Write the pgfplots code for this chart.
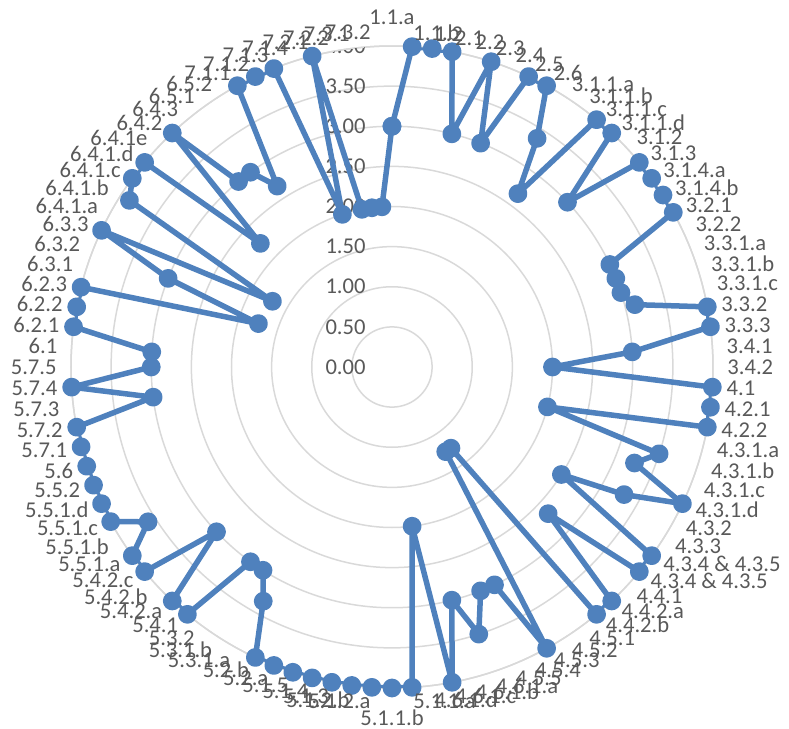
\documentclass[border=0pt]{standalone}
\usepackage{pgfplots}
\pgfplotsset{compat=1.18}
\usepackage{pgfplotstable}
\usepgfplotslibrary{polar}
\usetikzlibrary{calc}
\usepackage{fontspec}
\setmainfont{Carlito}
\definecolor{gridgray}{RGB}{217,217,217}
\definecolor{txtgray}{RGB}{89,89,89}
\definecolor{serblue}{RGB}{79,129,189}

\pgfplotstableread{
k v
0 3.0
1 4
2 4
3 4
4 3.0
5 4
6 3.0
7 4
8 4
9 3.375
10 2.67
11 4
12 4
13 3.0
14 4
15 4
16 4
17 4
18 3.0
19 3.0
20 3.0
21 3.125
22 4
23 4
24 3.0
25 2.0
26 4
27 4
28 4
29 2.0
30 3.5
31 3.25
32 4
33 3.3
34 2.5
35 4
36 4
37 2.67
38 4
39 4
40 1.25
41 1.25
42 4
43 3.0
44 3.0
45 3.5
46 3.0
47 4
48 2.0
49 4
50 4
51 4
52 4
53 4
54 4
55 4
56 4
57 4
58 3.33
59 3.0
60 3.0
61 4
62 4
63 3.0
64 4
65 4
66 3.6
67 4
68 4
69 4
70 4
71 4
72 4
73 3.0
74 4
75 3.0
76 3.0
77 4
78 4
79 4
80 1.75
81 3.0
82 4
83 1.7
84 3.875
85 4
86 4
87 2.25
88 4
89 3.0
90 3.0
91 2.67
92 4
93 4
94 4
95 2.0
96 4
97 2.0
98 2.0
99 2.0
100 3.0
}\datatable

\begin{document}
\begin{tikzpicture}[font=\fontsize{11.3}{13}\selectfont]
\begin{polaraxis}[
  scale only axis, width=321pt, height=321pt,
  xmin=-270, xmax=90, ymin=0, ymax=4,
  xtick=\empty,
  ytick={0.5,1,1.5,2,2.5,3,3.5,4},
  yticklabels={},
  ymajorgrids, xmajorgrids=false,
  grid style={draw=gridgray, line width=0.75pt},
  x axis line style={draw=gridgray, line width=0.75pt},
  y axis line style={draw=none},
  major tick length=0pt,
]
\node[anchor=east, inner sep=0pt, text=txtgray, xshift=-13pt] at (axis cs:90,0) {0.00};
\node[anchor=east, inner sep=0pt, text=txtgray, xshift=-13pt] at (axis cs:90,0.5) {0.50};
\node[anchor=east, inner sep=0pt, text=txtgray, xshift=-13pt] at (axis cs:90,1) {1.00};
\node[anchor=east, inner sep=0pt, text=txtgray, xshift=-13pt] at (axis cs:90,1.5) {1.50};
\node[anchor=east, inner sep=0pt, text=txtgray, xshift=-13pt] at (axis cs:90,2) {2.00};
\node[anchor=east, inner sep=0pt, text=txtgray, xshift=-13pt] at (axis cs:90,2.5) {2.50};
\node[anchor=east, inner sep=0pt, text=txtgray, xshift=-13pt] at (axis cs:90,3) {3.00};
\node[anchor=east, inner sep=0pt, text=txtgray, xshift=-13pt] at (axis cs:90,3.5) {3.50};
\node[anchor=east, inner sep=0pt, text=txtgray, xshift=-13pt] at (axis cs:90,4) {4.00};
\addplot[serblue, line width=2.75pt, line join=round, mark=*, mark size=3.3pt,
  mark options={draw=none, fill=serblue}]
  table[x expr={90-3.6*\thisrow{k}}, y=v] {\datatable};
\coordinate (c) at (axis cs:0,0);
\end{polaraxis}
\foreach \lab [count=\i from 0] in {{1.1.a},{1.1.b},{1.2},{2.1},{2.2},{2.3},{2.4},{2.5},{2.6},
  {3.1.1.a},{3.1.1.b},{3.1.1.c},{3.1.1.d},{3.1.2},{3.1.3},{3.1.4.a},{3.1.4.b},{3.2.1},{3.2.2},
  {3.3.1.a},{3.3.1.b},{3.3.1.c},{3.3.2},{3.3.3},{3.4.1},{3.4.2},{4.1},{4.2.1},{4.2.2},
  {4.3.1.a},{4.3.1.b},{4.3.1.c},{4.3.1.d},{4.3.2},{4.3.3},{4.3.4 \& 4.3.5},{4.3.4 \& 4.3.5},
  {4.4.1},{4.4.2.a},{4.4.2.b},{4.5.1},{4.5.2},{4.5.3},{4.5.4},{4.5.5},{4.6.1.a},{4.6.1.b},
  {4.6.1.c},{4.6.1.d},{5.1.1.a},{5.1.1.b},{5.1.2.a},{5.1.2.b},{5.1.3},{5.1.4},{5.1.5},
  {5.2.a},{5.2.b},{5.3.1.a},{5.3.1.b},{5.3.2},{5.4.1},{5.4.2.a},{5.4.2.b},{5.4.2.c},
  {5.5.1.a},{5.5.1.b},{5.5.1.c},{5.5.1.d},{5.5.2},{5.6},{5.7.1},{5.7.2},{5.7.3},{5.7.4},
  {5.7.5},{6.1},{6.2.1},{6.2.2},{6.2.3},{6.3.1},{6.3.2},{6.3.3},{6.4.1.a},{6.4.1.b},
  {6.4.1.c},{6.4.1.d},{6.4.1e},{6.4.2},{6.4.3},{6.5.1},{6.5.2},{7.1.1},{7.1.2},{7.1.3},
  {7.1.4},{7.2.1},{7.2.2},{7.3.1},{7.3.2}} {
  \pgfmathsetmacro\ang{90-3.6*\i}
  \ifnum\i=0
    \def\anc{south}\def\R{171pt}
  \else\ifnum\i=50
    \def\anc{north}\def\R{171pt}
  \else\ifnum\i<50
    \def\anc{west}\def\R{167.5pt}
  \else
    \def\anc{east}\def\R{167.5pt}
  \fi\fi\fi
  \node[anchor=\anc, inner sep=0pt, text=txtgray] at ($(c)+(\ang:\R)$) {\lab};
}
\pgfresetboundingbox
\path[use as bounding box] ($(c)+(-196pt,-181pt)$) rectangle ($(c)+(198.5pt,183.5pt)$);
\end{tikzpicture}
\end{document}
